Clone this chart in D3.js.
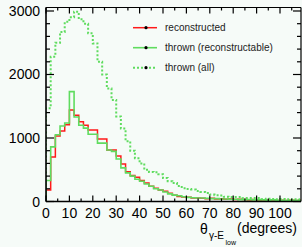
<!DOCTYPE html>
<html>
<head>
<meta charset="utf-8">
<script src="https://cdn.jsdelivr.net/npm/d3@7"></script>
<style>
  body { margin: 0; background: #f6fbf8; }
  svg { display: block; font-family: "Liberation Sans", Arial, sans-serif; }
</style>
</head>
<body>
<script>
// theta(gamma - E_low) histograms, 2 degree bins from 0 to 110
var binWidth = 2;
var reconstructed = [180, 700, 1030, 1110, 1210, 1440, 1360, 1255, 1200, 1125, 1125, 985, 985, 810, 810,
    715, 590, 470, 410, 380, 330, 290, 240, 210, 180, 160, 130, 100, 80, 70,
    65, 55, 55, 50, 45, 50, 40, 45, 35, 40, 30, 35, 30, 25, 30,
    20, 25, 20, 25, 15, 20, 15, 20, 15, 20];
var thrownReco = [330, 860, 1050, 1190, 1235, 1730, 1330, 1200, 1155, 1060, 1060, 920, 920, 810, 790,
    670, 530, 450, 400, 350, 320, 275, 240, 200, 180, 150, 120, 100, 90, 75,
    65, 60, 55, 55, 50, 45, 45, 40, 40, 35, 35, 30, 30, 30, 25,
    25, 25, 20, 25, 20, 20, 15, 20, 15, 15];
var thrownAll = [1470, 2280, 2500, 2670, 2830, 2900, 2990, 2870, 2800, 2650, 2490, 2200, 2000, 1780, 1600,
    1340, 1150, 950, 800, 680, 600, 500, 465, 460, 430, 370, 320, 290, 245, 210,
    195, 190, 165, 150, 135, 110, 100, 95, 75, 70, 70, 70, 55, 55, 55,
    55, 40, 45, 40, 35, 40, 35, 30, 35, 30];
var xTicks = [0, 10, 20, 30, 40, 50, 60, 70, 80, 90, 100];
var yTicks = [0, 1000, 2000, 3000];
var legendLabels = ["reconstructed", "thrown (reconstructable)", "thrown (all)"];

var width = 302, height = 247;
var margin = { top: 7.5, right: 0, bottom: 45.5, left: 46 };

var svg = d3.select("body").append("svg")
    .attr("width", width)
    .attr("height", height);

var x = d3.scaleLinear().domain([0, 110]).range([margin.left, margin.left + 110 * 2.34]);
var y = d3.scaleLinear().domain([0, 3055]).range([height - margin.bottom, margin.top]);

var plotRight = 301;

svg.append("clipPath").attr("id", "clip")
    .append("rect")
    .attr("x", margin.left).attr("y", margin.top)
    .attr("width", plotRight - margin.left)
    .attr("height", y(0) - margin.top);

function stepPoints(values) {
    var pts = [[0, 0]];
    values.forEach(function (v, i) {
        pts.push([i * binWidth, v]);
        pts.push([(i + 1) * binWidth, v]);
    });
    pts.push([values.length * binWidth, 0]);
    return pts;
}

var line = d3.line()
    .x(function (d) { return x(d[0]); })
    .y(function (d) { return y(d[1]); });

var series = [
    { values: reconstructed, color: "#ff1a1a", dash: null, width: 1.5 },
    { values: thrownReco, color: "#5fdc5f", dash: null, width: 1.6 },
    { values: thrownAll, color: "#5fdc5f", dash: "2,2", width: 2 }
];

var plot = svg.append("g").attr("clip-path", "url(#clip)");
series.forEach(function (s) {
    plot.append("path")
        .datum(stepPoints(s.values))
        .attr("d", line)
        .attr("fill", "none")
        .attr("stroke", s.color)
        .attr("stroke-width", s.width)
        .attr("stroke-dasharray", s.dash);
});

// frame
var axisG = svg.append("g").attr("stroke", "#000");
axisG.append("line").attr("x1", margin.left).attr("x2", plotRight)
    .attr("y1", y(0)).attr("y2", y(0)).attr("stroke-width", 1.6);
axisG.append("line").attr("x1", margin.left).attr("x2", plotRight)
    .attr("y1", margin.top).attr("y2", margin.top).attr("stroke-width", 1.2);
axisG.append("line").attr("x1", margin.left).attr("x2", margin.left)
    .attr("y1", margin.top).attr("y2", y(0)).attr("stroke-width", 1.6);
axisG.append("line").attr("x1", plotRight).attr("x2", plotRight)
    .attr("y1", margin.top).attr("y2", y(0)).attr("stroke-width", 1.2);

// x ticks (bottom and top)
d3.range(0, 110, 5).forEach(function (t) {
    var len = t % 10 === 0 ? 6 : 3;
    axisG.append("line").attr("x1", x(t)).attr("x2", x(t))
        .attr("y1", y(0)).attr("y2", y(0) - len).attr("stroke-width", 1.2);
    axisG.append("line").attr("x1", x(t)).attr("x2", x(t))
        .attr("y1", margin.top).attr("y2", margin.top + len).attr("stroke-width", 1.2);
});

// y ticks (left and right)
d3.range(0, 3001, 200).forEach(function (t) {
    var len = t % 1000 === 0 ? 8 : 4;
    axisG.append("line").attr("x1", margin.left).attr("x2", margin.left + len)
        .attr("y1", y(t)).attr("y2", y(t)).attr("stroke-width", 1.2);
    axisG.append("line").attr("x1", plotRight).attr("x2", plotRight - len)
        .attr("y1", y(t)).attr("y2", y(t)).attr("stroke-width", 1.2);
});

svg.append("g").selectAll("text").data(xTicks).enter().append("text")
    .attr("x", function (d) { return x(d); })
    .attr("y", 217.5)
    .attr("text-anchor", "middle")
    .attr("font-size", 14)
    .attr("fill", "#000")
    .text(function (d) { return d; });

svg.append("g").selectAll("text").data(yTicks).enter().append("text")
    .attr("x", 40)
    .attr("y", function (d) { return y(d) + 5; })
    .attr("text-anchor", "end")
    .attr("font-size", 14)
    .attr("fill", "#000")
    .text(function (d) { return d; });

// axis title
var title = svg.append("g").attr("fill", "#000");
title.append("text").attr("x", 200).attr("y", 233.5).attr("font-size", 14).text("θ");
title.append("text").attr("x", 209).attr("y", 239).attr("font-size", 10).text("γ-E");
title.append("text").attr("x", 225.5).attr("y", 245).attr("font-size", 7).text("low");
title.append("text").attr("x", 237).attr("y", 233).attr("font-size", 14).text("(degrees)");

// legend
var legend = svg.append("g").selectAll("g").data(series).enter().append("g")
    .attr("transform", function (d, i) { return "translate(0," + (27.7 + 20 * i) + ")"; });
legend.append("line")
    .attr("x1", 133).attr("x2", 157).attr("y1", 0).attr("y2", 0)
    .attr("stroke", function (d) { return d.color; })
    .attr("stroke-width", function (d) { return d.width; })
    .attr("stroke-dasharray", function (d) { return d.dash; });
legend.append("circle").attr("cx", 146).attr("cy", 0).attr("r", 1.6).attr("fill", "#000");
legend.append("text")
    .attr("x", 165).attr("y", 3.5)
    .attr("font-size", 10)
    .attr("fill", "#222")
    .text(function (d, i) { return legendLabels[i]; });
</script>
</body>
</html>
